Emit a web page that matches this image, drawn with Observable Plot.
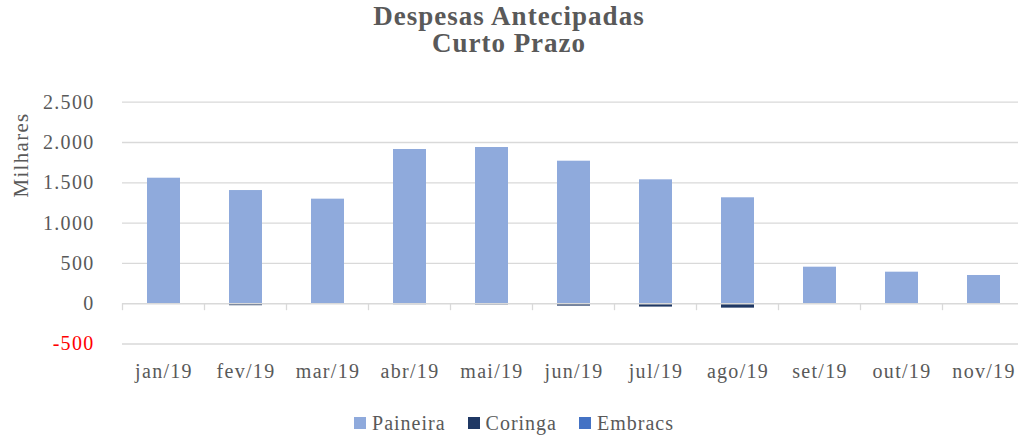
<!DOCTYPE html>
<html><head><meta charset="utf-8">
<script src="https://cdn.jsdelivr.net/npm/d3@7"></script>
<script src="https://cdn.jsdelivr.net/npm/@observablehq/plot@0.6"></script>
<style>
html,body{margin:0;padding:0;background:#fff;overflow:hidden;}
body{width:1018px;height:439px;font-family:"Liberation Serif",serif;color:#595959;}
#title{padding-top:3px;text-align:center;font-weight:bold;font-size:27px;line-height:27px;letter-spacing:1px;height:55px;}
#chart svg{display:block;overflow:visible;}
#legend{display:flex;justify-content:center;align-items:center;margin-top:18px;height:24px;line-height:24px;font-size:20px;letter-spacing:1px;padding-left:10px;}
#legend .item{display:flex;align-items:center;margin:0 11px;}
#legend .sw{width:12px;height:12px;margin-right:6px;}
</style>
</head><body>
<div id="title">Despesas Antecipadas<br>Curto Prazo</div>
<div id="chart"></div>
<div id="legend"></div>
<script>
const months = ["jan/19","fev/19","mar/19","abr/19","mai/19","jun/19","jul/19","ago/19","set/19","out/19","nov/19"];
const series = ["Paineira","Coringa","Embracs"];
const colors = ["#8FAADC","#1F3864","#4472C4"];
const paineira = [1557,1404,1297,1913,1938,1768,1537,1314,453,391,350];
const coringa  = [-10,-25,0,-12,-15,-30,-42,-55,0,0,0];
const embracs  = [0,0,0,0,0,0,0,0,0,0,0];
const yTicks = [-500,0,500,1000,1500,2000,2500];

const values = {Paineira: paineira, Coringa: coringa, Embracs: embracs};
const data = series.flatMap(s => months.map((m, i) => ({month: m, series: s, value: values[s][i]})));

const locale = d3.formatLocale({decimal: ",", thousands: ".", grouping: [3], currency: ["R$", ""], minus: "-"});
const fmt = locale.format(",.0f");

function boundaryTicks(index, scales) {
  const x = scales.x, y = scales.y;
  const bw = x.bandwidth();
  const step = x.step ? x.step() : (x(months[1]) - x(months[0]));
  const y0 = y(0);
  const g = d3.create("svg:g");
  const edges = months.map(m => x(m) - (step - bw) / 2);
  edges.push(x(months[months.length - 1]) + bw + (step - bw) / 2);
  for (const e of edges) {
    g.append("line").attr("x1", e).attr("x2", e).attr("y1", y0).attr("y2", y0 + 7)
      .attr("stroke", "#d9d9d9").attr("stroke-width", 1.3);
  }
  return g.node();
}

const plot = Plot.plot({
  width: 1018,
  height: 335,
  marginLeft: 122,
  marginRight: -6,
  marginTop: 43.7,
  marginBottom: 49.5,
  style: {fontFamily: "Liberation Serif, serif", fontSize: "20px", color: "#595959", letterSpacing: "1.3px", background: "white"},
  x: {domain: months, paddingInner: 0.6, paddingOuter: 0.3, label: null},
  y: {domain: [-500, 2500], label: null},
  color: {domain: series, range: colors},
  marks: [
    Plot.ruleY(yTicks.filter(d => d !== 0), {stroke: "#d9d9d9", strokeWidth: 1.3}),
    Plot.barY(data, {x: "month", y: "value", fill: "series", order: series}),
    Plot.ruleY([0], {stroke: "#d9d9d9", strokeWidth: 1.5}),
    boundaryTicks,
    Plot.axisX({anchor: "bottom", tickSize: 0, tickPadding: 19.5, fill: "#595959"}),
    Plot.axisY({ticks: yTicks, tickFormat: fmt, tickSize: 0, tickPadding: 28, fill: d => d < 0 ? "#FF0000" : "#595959", label: null}),
    Plot.text(["Milhares"], {frameAnchor: "top-left", dx: -109.4, dy: 95.3, rotate: -90, fill: "#595959", fontSize: 21})
  ]
});
document.getElementById("chart").appendChild(plot);

const legend = document.getElementById("legend");
series.forEach((s, i) => {
  const item = document.createElement("div");
  item.className = "item";
  const sw = document.createElement("div");
  sw.className = "sw";
  sw.style.background = colors[i];
  const t = document.createElement("span");
  t.textContent = s;
  item.appendChild(sw); item.appendChild(t);
  legend.appendChild(item);
});
</script>
</body></html>
